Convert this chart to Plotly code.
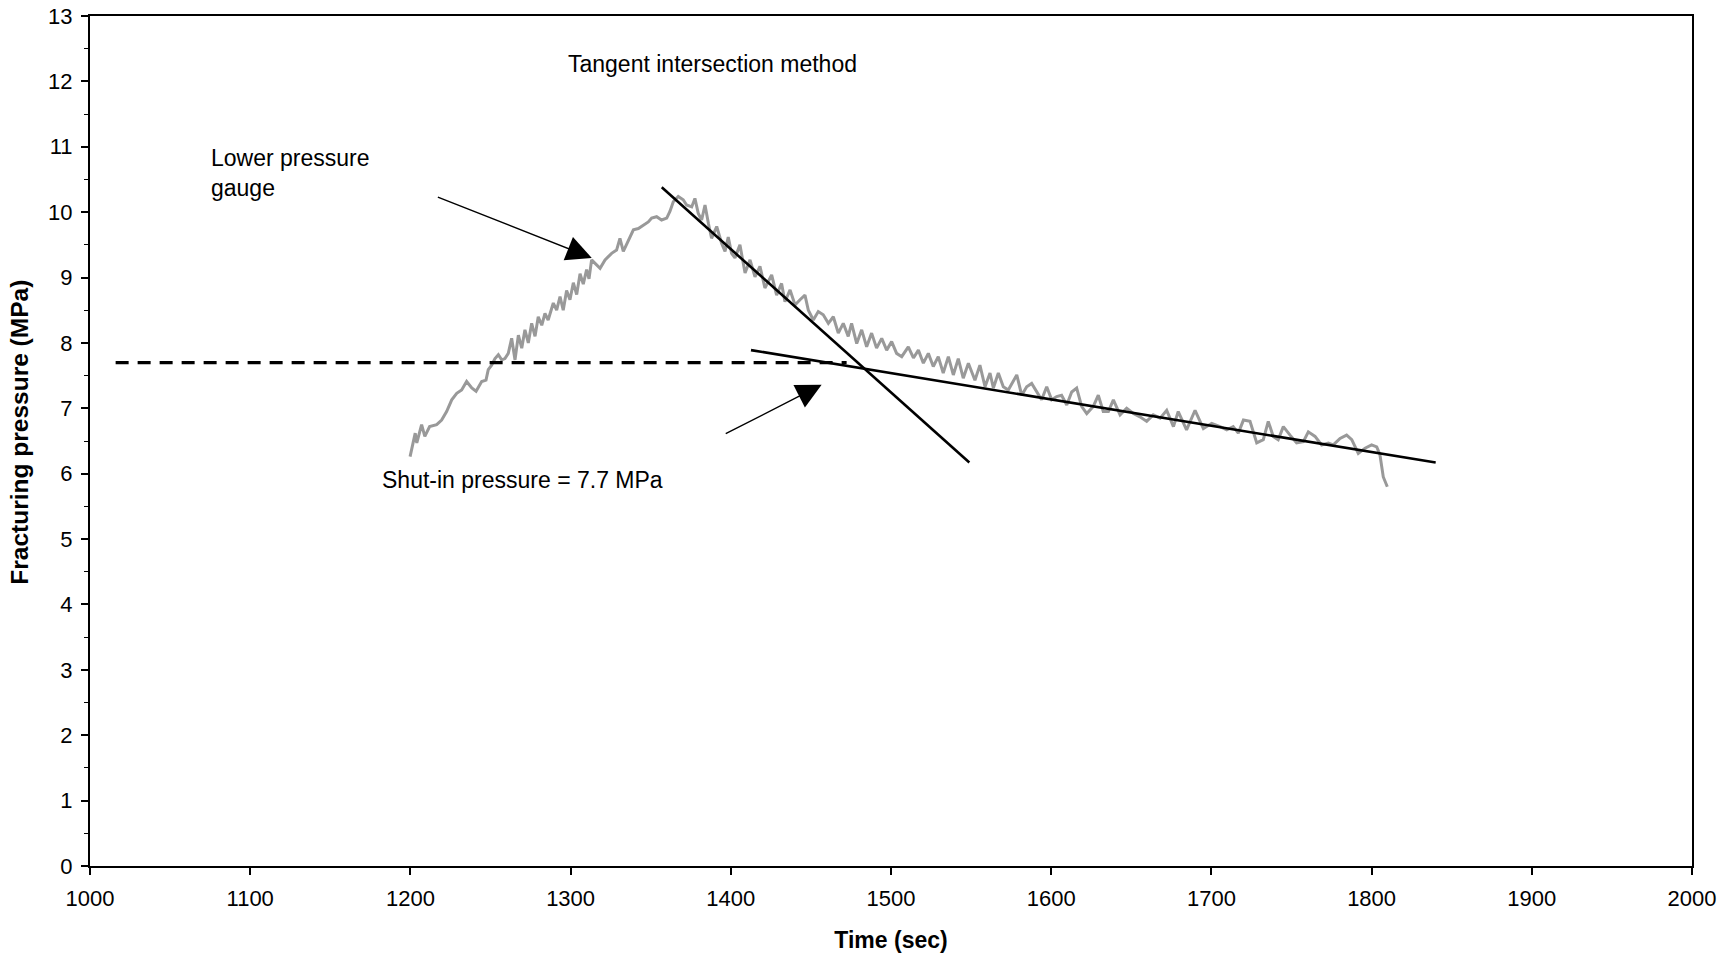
import plotly.graph_objects as go

# Lower pressure gauge record: time (s) and fracturing pressure (MPa)
time_s = [
    1199.8, 1201.8, 1203.0, 1204.0, 1207.0, 1209.0, 1212.0, 1216.4, 1219.5, 1222.6,
    1225.8, 1228.9, 1232.0, 1235.1, 1238.3, 1241.0, 1244.5, 1247.2, 1248.6, 1250.7,
    1252.8, 1254.9, 1257.0, 1259.0, 1261.1, 1263.2, 1265.3, 1267.4, 1269.5, 1271.5,
    1273.6, 1275.7, 1277.8, 1279.8, 1282.0, 1284.0, 1286.0, 1289.2, 1291.3, 1293.4,
    1295.4, 1297.5, 1299.6, 1301.7, 1303.8, 1305.9, 1307.9, 1310.0, 1311.5, 1313.1,
    1315.2, 1318.4, 1321.5, 1325.6, 1328.7, 1330.8, 1332.9, 1336.0, 1339.2, 1342.3,
    1345.4, 1348.5, 1350.6, 1353.7, 1356.8, 1360.0, 1362.0, 1364.1, 1367.2, 1370.3,
    1372.4, 1375.6, 1377.6, 1379.7, 1381.8, 1383.9, 1386.0, 1388.0, 1391.2, 1394.3,
    1396.4, 1398.4, 1400.5, 1402.6, 1405.7, 1408.9, 1412.0, 1415.1, 1418.2, 1421.3,
    1425.5, 1428.6, 1431.7, 1433.8, 1437.0, 1440.1, 1443.2, 1446.3, 1448.4, 1451.5,
    1454.6, 1457.7, 1460.9, 1464.0, 1467.1, 1470.2, 1473.3, 1475.4, 1478.6, 1481.7,
    1484.8, 1487.9, 1491.0, 1494.2, 1497.3, 1500.4, 1503.5, 1506.7, 1510.8, 1514.0,
    1517.1, 1520.2, 1523.3, 1526.4, 1529.5, 1532.6, 1535.8, 1538.9, 1542.0, 1545.1,
    1548.3, 1552.4, 1555.5, 1558.7, 1561.8, 1563.9, 1567.0, 1570.1, 1573.2, 1575.3,
    1578.5, 1581.6, 1584.7, 1587.8, 1590.9, 1594.0, 1597.2, 1600.3, 1603.4, 1606.5,
    1609.7, 1612.8, 1615.9, 1619.0, 1622.2, 1626.3, 1629.4, 1632.5, 1635.7, 1638.8,
    1643.0, 1647.1, 1651.3, 1655.4, 1659.6, 1663.7, 1668.0, 1672.1, 1676.3, 1679.3,
    1684.5, 1689.8, 1695.0, 1700.2, 1705.4, 1709.6, 1713.6, 1716.8, 1720.0, 1724.1,
    1728.3, 1732.4, 1735.5, 1738.6, 1741.7, 1744.9, 1749.1, 1753.2, 1757.4, 1760.5,
    1764.7, 1768.8, 1773.0, 1776.1, 1780.3, 1784.4, 1787.6, 1791.7, 1795.9, 1800.0,
    1803.2, 1805.2, 1807.3, 1809.8,
]
pressure_mpa = [
    6.26, 6.52, 6.62, 6.47, 6.75, 6.57, 6.72, 6.75, 6.82, 6.95,
    7.13, 7.23, 7.28, 7.41, 7.31, 7.26, 7.41, 7.43, 7.59, 7.66,
    7.76, 7.82, 7.74, 7.76, 7.84, 8.07, 7.74, 8.12, 7.92, 8.20,
    8.00, 8.30, 8.10, 8.40, 8.27, 8.45, 8.35, 8.61, 8.50, 8.71,
    8.50, 8.80, 8.66, 8.92, 8.74, 9.06, 8.90, 9.12, 8.98, 9.27,
    9.22, 9.14, 9.27, 9.37, 9.42, 9.60, 9.40, 9.57, 9.73, 9.75,
    9.80, 9.85, 9.91, 9.93, 9.88, 9.91, 10.01, 10.16, 10.24, 10.19,
    10.11, 10.08, 10.21, 9.98, 9.88, 10.11, 9.83, 9.60, 9.78, 9.52,
    9.40, 9.62, 9.37, 9.30, 9.50, 9.07, 9.27, 9.01, 9.17, 8.84,
    9.04, 8.73, 8.91, 8.63, 8.81, 8.58, 8.66, 8.73, 8.50, 8.35,
    8.48, 8.43, 8.30, 8.40, 8.15, 8.30, 8.10, 8.30, 7.99, 8.20,
    7.94, 8.15, 7.92, 8.07, 7.89, 8.02, 7.84, 7.79, 7.94, 7.77,
    7.89, 7.69, 7.84, 7.64, 7.79, 7.54, 7.79, 7.51, 7.76, 7.46,
    7.69, 7.43, 7.66, 7.33, 7.54, 7.31, 7.54, 7.33, 7.28, 7.38,
    7.51, 7.20, 7.33, 7.38, 7.25, 7.13, 7.33, 7.13, 7.18, 7.20,
    7.05, 7.25, 7.31, 7.03, 6.92, 7.03, 7.20, 6.95, 6.95, 7.13,
    6.90, 7.00, 6.92, 6.87, 6.80, 6.90, 6.85, 6.97, 6.72, 6.95,
    6.67, 6.97, 6.69, 6.77, 6.72, 6.67, 6.72, 6.62, 6.82, 6.80,
    6.47, 6.52, 6.80, 6.57, 6.52, 6.72, 6.59, 6.47, 6.49, 6.64,
    6.57, 6.44, 6.47, 6.44, 6.54, 6.59, 6.52, 6.31, 6.39, 6.44,
    6.41, 6.29, 5.95, 5.80, 5.70,
]

# Tangent lines (start / end points)
early_tangent_t = [1356.9, 1548.9]
early_tangent_p = [10.38, 6.17]
late_tangent_t = [1412.6, 1840.0]
late_tangent_p = [7.89, 6.17]

# Shut-in pressure level
shut_in_pressure = 7.7
shut_in_t = [1016.0, 1472.3]

# Arrow pointers: (tail_t, tail_p, tip_t, tip_p)
gauge_arrow = (1216.2, 10.24, 1313.2, 9.30)
shut_in_arrow = (1395.9, 6.60, 1456.7, 7.36)

x_ticks = [1000, 1100, 1200, 1300, 1400, 1500, 1600, 1700, 1800, 1900, 2000]
y_ticks = list(range(0, 14))

FONT = "Liberation Sans, Arial, sans-serif"

fig = go.Figure()

fig.add_trace(go.Scatter(
    x=time_s, y=pressure_mpa, mode="lines",
    line=dict(color="#999999", width=3),
    showlegend=False, hoverinfo="skip",
))
fig.add_trace(go.Scatter(
    x=shut_in_t, y=[shut_in_pressure, shut_in_pressure], mode="lines",
    line=dict(color="black", width=3.2, dash="13px,9px"),
    showlegend=False, hoverinfo="skip",
))
fig.add_trace(go.Scatter(
    x=early_tangent_t, y=early_tangent_p, mode="lines",
    line=dict(color="black", width=2.6),
    showlegend=False, hoverinfo="skip",
))
fig.add_trace(go.Scatter(
    x=late_tangent_t, y=late_tangent_p, mode="lines",
    line=dict(color="black", width=2.6),
    showlegend=False, hoverinfo="skip",
))

annotations = []
for tail_t, tail_p, tip_t, tip_p in (gauge_arrow, shut_in_arrow):
    annotations.append(dict(
        x=tip_t, y=tip_p, ax=tail_t, ay=tail_p,
        xref="x", yref="y", axref="x", ayref="y",
        text="", showarrow=True, arrowhead=2, arrowsize=3.6,
        arrowwidth=1.4, arrowcolor="black", standoff=0,
    ))

text_style = dict(family=FONT, size=23, color="black")
annotations += [
    dict(x=1297.4, y=12.27, xref="x", yref="y", text="Tangent intersection method",
         showarrow=False, xanchor="left", yanchor="middle", font=text_style),
    dict(x=1074.3, y=10.6, xref="x", yref="y", text="Lower pressure<br>gauge",
         showarrow=False, xanchor="left", yanchor="middle", align="left", font=text_style),
    dict(x=1181.0, y=5.90, xref="x", yref="y", text="Shut-in pressure = 7.7 MPa",
         showarrow=False, xanchor="left", yanchor="middle", font=text_style),
    # y-axis title
    dict(x=-0.0437, y=0.511, xref="paper", yref="paper",
         text="<b>Fracturing pressure (MPa)</b>", textangle=-90,
         showarrow=False, xanchor="center", yanchor="middle",
         font=dict(family=FONT, size=24.5, color="black")),
]

axis_common = dict(
    showgrid=False, zeroline=False, automargin=False,
    showline=True, linecolor="black", linewidth=2, mirror=True,
    ticks="outside", tickcolor="black", tickwidth=1.5, ticklen=7,
    tickfont=dict(family=FONT, size=22, color="black"),
)

fig.update_layout(
    width=1728, height=956,
    margin=dict(l=90, r=36, t=16, b=90),
    paper_bgcolor="white", plot_bgcolor="white",
    annotations=annotations,
    xaxis=dict(
        range=[1000, 2000], tickvals=x_ticks,
        title=dict(text="<b>Time (sec)</b>", font=dict(family=FONT, size=23, color="black"),
                   standoff=21),
        ticklabelstandoff=5,
        **axis_common,
    ),
    yaxis=dict(
        range=[0, 13], tickvals=y_ticks,
        minor=dict(ticks="outside", dtick=0.5, ticklen=4, tickcolor="black", tickwidth=1),
        ticklabelstandoff=4,
        **axis_common,
    ),
)

fig.write_html("out.html")
